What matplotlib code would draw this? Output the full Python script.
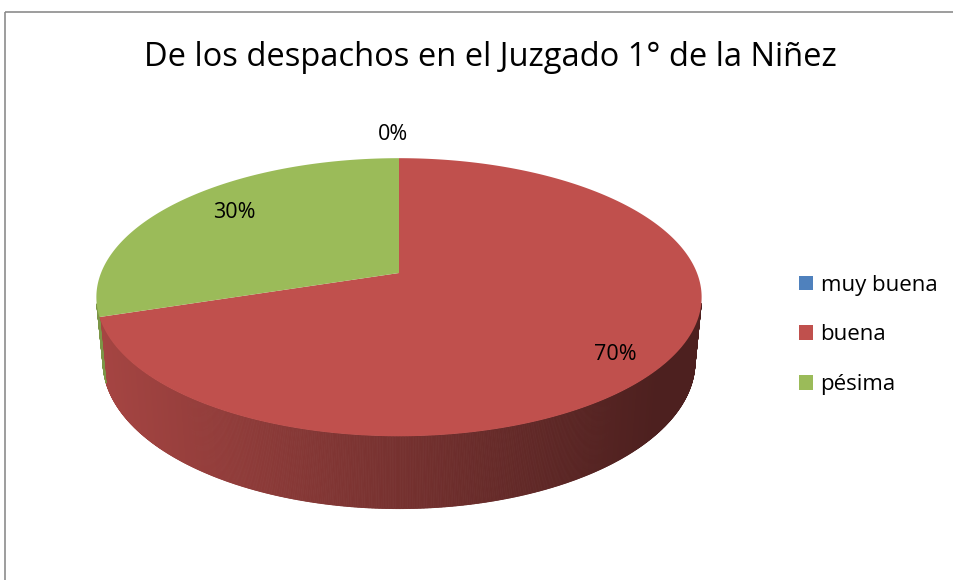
import numpy as np
import matplotlib.pyplot as plt
from matplotlib.collections import PolyCollection
from matplotlib.colors import to_rgb
from matplotlib.patches import Polygon, Rectangle, Patch

# datos
categorias = ['muy buena', 'buena', 'pésima']
valores = [0, 70, 30]
etiquetas = ['0%', '70%', '30%']
colores = ['#4F81BD', '#C0504D', '#9BBB59']
titulo = 'De los despachos en el Juzgado 1° de la Niñez'

plt.rcParams['font.family'] = ['Open Sans', 'DejaVu Sans']

fig = plt.figure(figsize=(9.54, 5.80), dpi=100)
ax = fig.add_axes([0, 0, 1, 1])
ax.set_xlim(0, 954)
ax.set_ylim(580, 0)
ax.axis('off')

# marco
ax.add_patch(Rectangle((5, 12), 1000, 1000, fill=False, ec='#8c8c8c', lw=1.2))

# pastel 3D con perspectiva
cx, cy, escala = 399, 273, 298      # centro proyectado y radio en px
elev = np.radians(26.9)             # inclinacion
dist = 5.12                         # distancia de la camara (en radios)
grosor = 0.244                      # altura del cilindro (en radios)
se, ce = np.sin(elev), np.cos(elev)

def proy(t, y=0.0):
    X, Z = np.cos(t), np.sin(t)
    yv = Z * se + y * ce
    dv = Z * ce - y * se
    k = dist / (dist + dv)
    return cx + escala * X * k, cy - escala * yv * k

def sombra(color, x, izq):
    f = izq - 0.46 * np.clip((x - (cx - escala)) / 560.0, 0, 1)
    return tuple(np.array(to_rgb(color)) * f)

total = float(sum(valores))
angulos = []
a0 = np.pi / 2
for v in valores:
    a1 = a0 - 2 * np.pi * v / total
    angulos.append((a0, a1))
    a0 = a1

# lados visibles
polys, cols = [], []
for (a0, a1), c in zip(angulos, colores):
    if a0 == a1:
        continue
    ts = np.linspace(a1, a0, max(int((a0 - a1) / 0.004), 2))
    for t0, t1 in zip(ts[:-1], ts[1:]):
        p0, p1 = proy(t0), proy(t1)
        q1, q0 = proy(t1, -grosor), proy(t0, -grosor)
        # orientacion del cuadrilatero en pantalla: solo caras frontales
        cruz = (p1[0] - p0[0]) * (q0[1] - p0[1]) - (p1[1] - p0[1]) * (q0[0] - p0[0])
        if cruz <= 0:
            continue
        polys.append([p0, p1, q1, q0])
        izq = 0.86 if c == '#C0504D' else 0.8
        cols.append(sombra(c, (p0[0] + p1[0]) / 2, izq))
ax.add_collection(PolyCollection(polys, facecolors=cols, edgecolors=cols, lw=0.6))

# cara superior
for (a0, a1), c in zip(angulos, colores):
    if a0 == a1:
        continue
    ts = np.linspace(a0, a1, 400)
    pts = [(cx, cy)] + [proy(t) for t in ts]
    ax.add_patch(Polygon(pts, closed=True, fc=c, ec='none'))

# etiquetas de porcentaje
pos_etiquetas = [(393, 135), (615, 355), (234, 212)]
for txt, (x, y) in zip(etiquetas, pos_etiquetas):
    ax.text(x, y, txt, ha='center', va='center', fontsize=15.5, color='black')

ax.text(490, 57, titulo, ha='center', va='center', fontsize=23.5, color='black')

handles = [Patch(fc=c, ec='none') for c in colores]
fig.legend(handles, categorias, loc='center left', bbox_to_anchor=(799 / 954, 1 - 335 / 580),
           frameon=False, fontsize=16, handlelength=0.62, handleheight=0.62,
           handletextpad=0.35, labelspacing=1.3, borderpad=0, borderaxespad=0)

fig.savefig('out.png', dpi=100)
